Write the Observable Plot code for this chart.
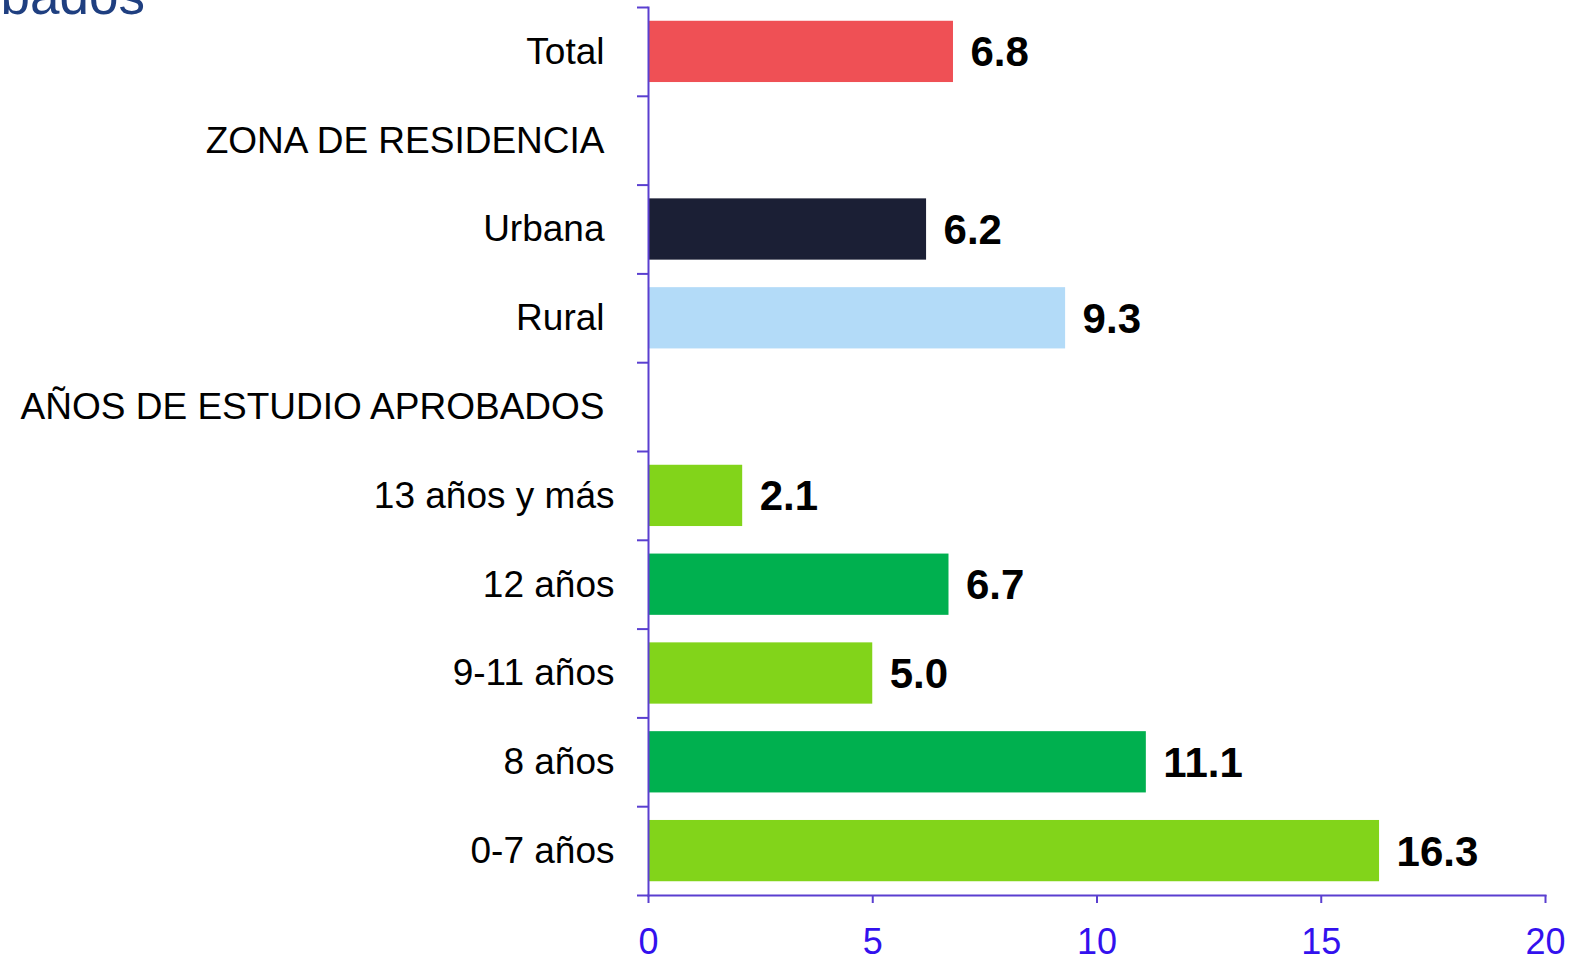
<!DOCTYPE html>
<html><head><meta charset="utf-8">
<script src="https://cdn.jsdelivr.net/npm/d3@7"></script>
<script src="https://cdn.jsdelivr.net/npm/@observablehq/plot@0.6"></script>
<style>
html,body{margin:0;padding:0;background:#fff;overflow:hidden;}
#wrap{position:relative;width:1570px;height:957px;}
#title{position:absolute;right:1425px;top:-31px;font-family:"Liberation Sans",Arial,sans-serif;font-size:53px;color:#1f3f80;white-space:nowrap;line-height:1;}
#chart{position:absolute;left:0;top:0;}
</style></head>
<body>
<div id="wrap"><div id="title">aprobados</div><div id="chart"></div></div>
<script>
const categories = ["Total","ZONA DE RESIDENCIA","Urbana","Rural","AÑOS DE ESTUDIO APROBADOS","13 años y más","12 años","9-11 años","8 años","0-7 años"];
const values = [6.8, null, 6.2, 9.3, null, 2.1, 6.7, 5.0, 11.1, 16.3];
const colors = ["#ef5055", null, "#1b1f35", "#b3dbf8", null, "#82d41a", "#00b04f", "#82d41a", "#00b04f", "#82d41a"];
const indented = ["13 años y más","12 años","9-11 años","8 años","0-7 años"];
const xTicks = [0, 5, 10, 15, 20];

const data = categories.map((c, i) => ({cat: c, value: values[i], color: colors[i]}));
const bars = data.filter(d => d.value != null);
const axisColor = "#5a3fd0";
const step = (895 - 7) / categories.length;

const chart = Plot.plot({
  width: 1570, height: 957,
  marginLeft: 648, marginRight: 25, marginTop: 7, marginBottom: 62,
  style: {fontFamily: "'Liberation Sans', Arial, sans-serif", background: "transparent"},
  x: {domain: [0, 20], ticks: xTicks},
  y: {domain: categories, paddingInner: 0.31, paddingOuter: 0.155, round: false},
  marks: [
    Plot.barX(bars, {x: "value", y: "cat", fill: "color"}),
    Plot.text(bars, {x: "value", y: "cat", text: d => d.value.toFixed(1), textAnchor: "start", dx: 17, dy: 1, fontSize: 42, fontWeight: "bold", fill: "#000"}),
    Plot.text(data.filter(d => !indented.includes(d.cat)), {x: 0, y: "cat", text: "cat", textAnchor: "end", dx: -44, fontSize: 37, fill: "#000"}),
    Plot.text(data.filter(d => indented.includes(d.cat)), {x: 0, y: "cat", text: "cat", textAnchor: "end", dx: -34, fontSize: 37, fill: "#000"}),
    Plot.axisY({tickSize: 11, fill: "none", label: null, dy: -step / 2, stroke: axisColor, strokeWidth: 2}),
    Plot.axisY({ticks: [categories[categories.length - 1]], tickSize: 11, fill: "none", label: null, dy: step / 2, stroke: axisColor, strokeWidth: 2}),
    Plot.frame({anchor: "left", stroke: axisColor, strokeWidth: 2}),
    Plot.frame({anchor: "bottom", stroke: axisColor, strokeWidth: 2}),
    Plot.axisX({ticks: xTicks, tickSize: 8, tickPadding: 25, fontSize: 36, label: null, stroke: axisColor, strokeWidth: 2, fill: "#3311ee", tickFormat: d => String(d)})
  ]
});
document.getElementById("chart").appendChild(chart);
</script>
</body></html>
